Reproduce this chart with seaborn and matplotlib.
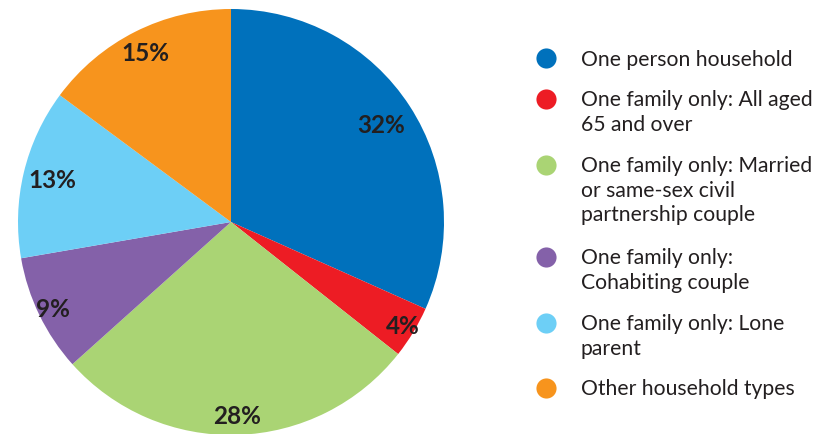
import matplotlib
matplotlib.use("Agg")
import matplotlib.pyplot as plt
import numpy as np
import seaborn as sns

# Household composition shares (%)
categories = [
    "One person household",
    "One family only: All aged\n65 and over",
    "One family only: Married\nor same-sex civil\npartnership couple",
    "One family only:\nCohabiting couple",
    "One family only: Lone\nparent",
    "Other household types",
]
shares = [32, 4, 28, 9, 13, 15]
value_labels = ["32%", "4%", "28%", "9%", "13%", "15%"]
colors = ["#0071BC", "#ED1C24", "#AAD474", "#8461A9", "#6DCFF6", "#F7941D"]

sns.set_theme(style="white")
plt.rcParams["font.family"] = ["Lato", "DejaVu Sans"]
text_color = "#231F20"

fig = plt.figure(figsize=(8.2, 4.35), dpi=100)
fig.patch.set_facecolor("white")

# pie axes: square area on the left
ax = fig.add_axes([18 / 820, -1 / 435, 426 / 820, 426 / 435])
wedges, _ = ax.pie(
    shares,
    colors=colors,
    startangle=90,
    counterclock=False,
    radius=1.0,
    wedgeprops=dict(linewidth=0),
)
ax.set_xlim(-1, 1)
ax.set_ylim(-1, 1)
ax.set_aspect("equal")
ax.axis("off")

# percentage labels placed along each wedge's mid angle
label_radius = [0.84, 0.94, 0.91, 0.93, 0.86, 0.89]
for w, lab, r in zip(wedges, value_labels, label_radius):
    mid = np.deg2rad((w.theta1 + w.theta2) / 2)
    ax.text(r * np.cos(mid), r * np.sin(mid), lab, ha="center", va="center",
            fontsize=17.5, fontweight="bold", color=text_color)

# legend drawn in a pixel-space axes on the right
lax = fig.add_axes([0, 0, 1, 1])
lax.set_xlim(0, 820)
lax.set_ylim(435, 0)
lax.axis("off")
marker_y = [59, 100, 166, 258, 324, 389]
for y, c, name in zip(marker_y, colors, categories):
    lax.plot([546], [y], marker="o", markersize=14.5, color=c, markeredgewidth=0)
    lax.text(581, y - 9.5, name, ha="left", va="top", fontsize=15.2,
             color=text_color, linespacing=1.27)

fig.savefig("out.png", dpi=100, facecolor="white")
